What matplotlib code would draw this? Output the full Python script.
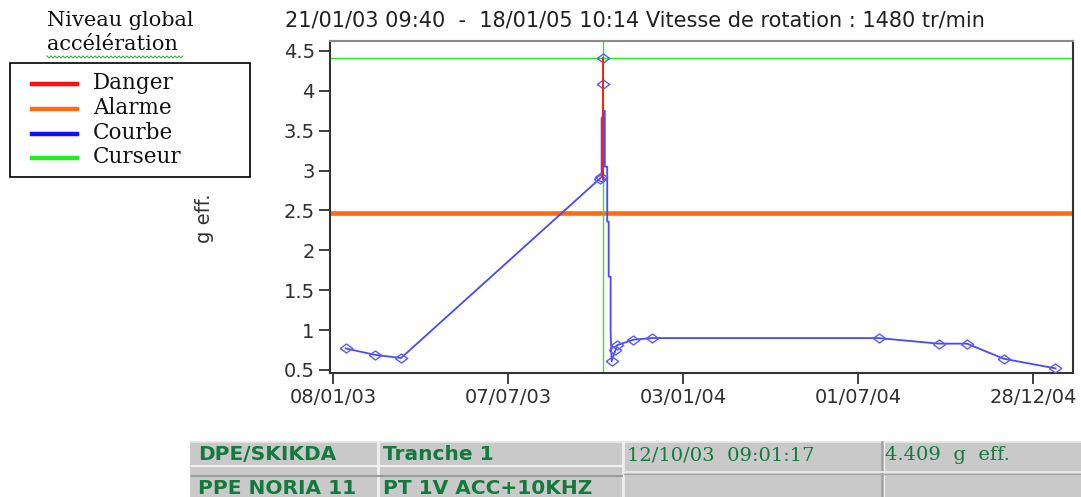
import matplotlib
matplotlib.use("Agg")
import matplotlib.pyplot as plt
import numpy as np
import pandas as pd
from matplotlib.lines import Line2D
from matplotlib.patches import Rectangle


def to_dt(values):
    return pd.to_datetime(values, format="ISO8601")


# Courbe (niveau global accélération, g eff.)
curve_dates = to_dt([
    "2003-01-21", "2003-02-20", "2003-03-19", "2003-10-09 12:00",
    "2003-10-11 06:00", "2003-10-11 06:00", "2003-10-14 12:00", "2003-10-14 12:00",
    "2003-10-17", "2003-10-17", "2003-10-18 12:00", "2003-10-18 12:00",
    "2003-10-20 12:00", "2003-10-20 12:00", "2003-10-21 12:00", "2003-10-25 12:00",
    "2003-10-27", "2003-11-13", "2003-12-02", "2004-07-22",
    "2004-09-22", "2004-10-21", "2004-11-28", "2005-01-20",
])
curve_values = [
    0.77, 0.69, 0.65, 2.90,
    2.92, 3.65, 3.75, 3.05,
    3.05, 2.36, 2.36, 1.67,
    1.67, 0.98, 0.61, 0.75,
    0.81, 0.88, 0.90, 0.90,
    0.83, 0.83, 0.64, 0.52,
]
marker_dates = to_dt([
    "2003-01-21", "2003-02-20", "2003-03-19", "2003-10-09 12:00", "2003-10-10 12:00",
    "2003-10-21 12:00", "2003-10-25 12:00", "2003-10-27", "2003-11-13", "2003-12-02",
    "2004-07-22", "2004-09-22", "2004-10-21", "2004-11-28", "2005-01-20",
    "2003-10-12 09:01", "2003-10-12 09:01",
])
marker_values = [
    0.77, 0.69, 0.65, 2.90, 2.92,
    0.61, 0.75, 0.81, 0.88, 0.90,
    0.90, 0.83, 0.83, 0.64, 0.52,
    4.09, 4.41,
]

# Danger segment at the cursor
danger_dates = to_dt(["2003-10-12 09:01", "2003-10-12 09:01"])
danger_values = [2.90, 4.41]

alarm_level = 2.47
cursor_date = pd.Timestamp("2003-10-12 09:01:17")
cursor_value = 4.409

x_range = to_dt(["2003-01-04 22:00", "2005-02-07"])
y_range = [0.462, 4.625]
tick_dates = to_dt(["2003-01-08", "2003-07-07", "2004-01-03", "2004-07-01", "2004-12-28"])
tick_labels = ["08/01/03", "07/07/03", "03/01/04", "01/07/04", "28/12/04"]
y_ticks = [0.5, 1, 1.5, 2, 2.5, 3, 3.5, 4, 4.5]
y_tick_labels = ["0.5", "1", "1.5", "2", "2.5", "3", "3.5", "4", "4.5"]

legend_labels = ["Danger", "Alarme", "Courbe", "Curseur"]
legend_colors = ["#ff1010", "#ff6a10", "#1010ff", "#20ee20"]

table_row1 = ["DPE/SKIKDA", "Tranche 1", "12/10/03  09:01:17", "4.409  g  eff."]
table_row2 = ["PPE NORIA 11", "PT 1V ACC+10KHZ", "", ""]

W, H = 1081, 497
fig = plt.figure(figsize=(W / 100, H / 100), dpi=100)


def fx(px):
    return px / W


def fy(py):
    return 1 - py / H


ax = fig.add_axes([fx(330), fy(373), fx(1073) - fx(330), fy(41) - fy(373)])

# Lines
ax.axhline(alarm_level, color="#ff6a10", lw=3.3, zorder=2)
ax.axhline(cursor_value, color="#20ee20", lw=1.0, zorder=2)
ax.axvline(cursor_date, color="#20ee20", lw=1.0, zorder=2)
ax.plot(curve_dates, curve_values, color="#4848ff", lw=1.3, zorder=3)
ax.plot(danger_dates, danger_values, color="#ff1a1a", lw=1.4, zorder=6)

diamond = [(-1, 0), (0, 0.72), (1, 0), (0, -0.72), (-1, 0)]
ax.plot(marker_dates, marker_values, linestyle="none", marker=diamond, markersize=9,
        markerfacecolor="none", markeredgecolor="#5a5aff", markeredgewidth=1.0, zorder=5)

ax.set_xlim(x_range[0], x_range[1])
ax.set_ylim(*y_range)
ax.set_xticks(tick_dates)
ax.set_xticklabels(tick_labels)
ax.set_yticks(y_ticks)
ax.set_yticklabels(y_tick_labels)
ax.tick_params(axis="both", length=8, width=1.3, color="#303030", labelcolor="#303030",
               labelsize=14, pad=3)
for lab in ax.get_xticklabels() + ax.get_yticklabels():
    lab.set_fontfamily("DejaVu Sans")

for side in ["left", "bottom", "right"]:
    ax.spines[side].set_color("#333333")
    ax.spines[side].set_linewidth(1.5)
ax.spines["top"].set_color("#8a8a8a")
ax.spines["top"].set_linewidth(1.5)

# Texts
fig.text(fx(285), fy(20), "21/01/03 09:40  -  18/01/05 10:14 Vitesse de rotation : 1480 tr/min",
         fontsize=15, family="DejaVu Sans", color="#202020", va="center", ha="left")
fig.text(fx(47), fy(20), "Niveau global", fontsize=15, family="DejaVu Serif",
         color="#101010", va="center", ha="left")
fig.text(fx(47), fy(45), "accélération", fontsize=15, family="DejaVu Serif",
         color="#101010", va="center", ha="left")
# spell-check squiggle under "accélération"
sx = np.arange(47, 184, 2)
sy = 57 + np.where(np.arange(len(sx)) % 2 == 0, -1, 1)
fig.add_artist(Line2D(fx(sx), fy(sy), color="#40b040", lw=0.8))
fig.text(fx(205), fy(218), "g eff.", rotation=90, fontsize=14, family="DejaVu Sans",
         color="#303030", va="center", ha="center")

# Legend (drawn by hand to match the original box)
fig.patches.append(Rectangle((fx(10), fy(177)), fx(250) - fx(10), fy(63) - fy(177),
                             transform=fig.transFigure, facecolor="white",
                             edgecolor="black", lw=1.2))
row_y = [84, 109, 134, 158]
for ry, lab, col in zip(row_y, legend_labels, legend_colors):
    fig.add_artist(Line2D([fx(32), fx(77)], [fy(ry), fy(ry)], color=col, lw=3.2))
    fig.text(fx(93), fy(ry - 1), lab, fontsize=15.5, family="DejaVu Serif",
             color="#101010", va="center", ha="left")

# Bottom info table
green = "#117a3c"
fig.patches.append(Rectangle((fx(190), 0), 1 - fx(190), fy(442), transform=fig.transFigure,
                             facecolor="#c9c9c9", edgecolor="none"))
fig.add_artist(Line2D([fx(190), fx(1081)], [fy(442), fy(442)], color="#e6e6e6", lw=1.2))
col_x = [190, 378, 623, 882, 1081]
for cx in col_x[1:3]:
    fig.add_artist(Line2D([fx(cx), fx(cx)], [0, fy(442)], color="#f0f0f0", lw=2.0))
fig.add_artist(Line2D([fx(882), fx(882)], [0, fy(442)], color="#a0a0a0", lw=1.8))
fig.add_artist(Line2D([fx(884), fx(884)], [0, fy(442)], color="#efefef", lw=1.0))
fig.add_artist(Line2D([fx(192), fx(622)], [fy(466), fy(466)], color="#f2f2f2", lw=1.5))
fig.add_artist(Line2D([fx(192), fx(622)], [fy(476), fy(476)], color="#9a9a9a", lw=1.5))
fig.add_artist(Line2D([fx(624), fx(1081)], [fy(472), fy(472)], color="#efefef", lw=1.2))
fig.add_artist(Line2D([fx(624), fx(1081)], [fy(474), fy(474)], color="#a8a8a8", lw=1.0))

text_x = [198, 383, 627, 885]
for i, txt in enumerate(table_row1):
    if i < 2:
        fig.text(fx(text_x[i]), fy(455), txt, color=green, va="center", ha="left",
                 fontsize=14.5, fontweight="bold", family="DejaVu Sans")
    else:
        fig.text(fx(text_x[i]), fy(455), txt, color=green, va="center", ha="left",
                 fontsize=14, family="DejaVu Serif")
for i, txt in enumerate(table_row2):
    if txt:
        fig.text(fx(text_x[i]), fy(488), txt, color=green, va="center", ha="left",
                 fontsize=14.5, fontweight="bold", family="DejaVu Sans")

fig.savefig("out.png", dpi=100)
